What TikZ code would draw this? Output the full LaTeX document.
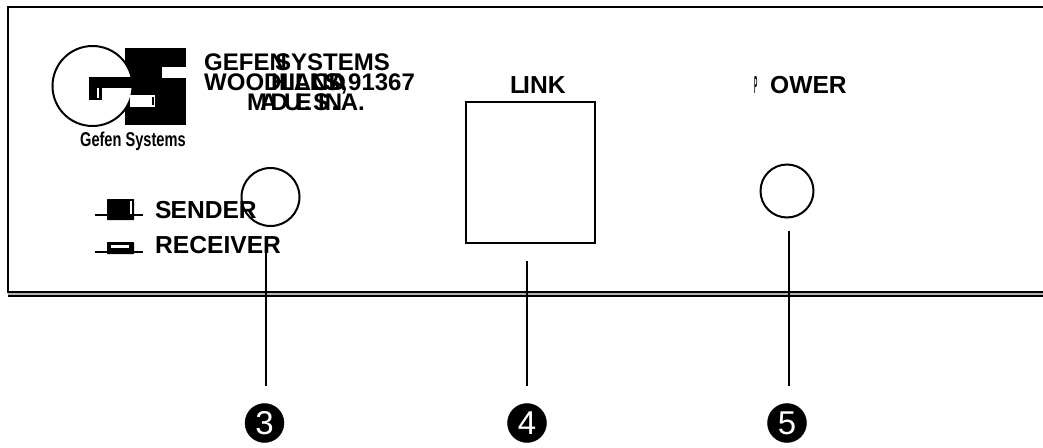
\documentclass[tikz,border=0pt]{standalone}
\usepackage{fontspec}
\setmainfont{Liberation Sans}
\usetikzlibrary{shapes,calc}
\tikzset{addr/.style={inner sep=0pt, anchor=base west, font=\bfseries\fontsize{24}{24}\selectfont}}
\tikzset{tag/.style={inner sep=0pt, anchor=base west, font=\bfseries\fontsize{24.6}{24.6}\selectfont}}
\tikzset{knob/.style={draw, circle, line width=2pt, inner sep=0pt}}
\tikzset{callout/.style={draw, fill=black, ellipse, inner sep=0pt, minimum width=39pt, minimum height=39pt, text=white, font=\fontsize{33}{33}\selectfont}}
\tikzset{line/.style={draw, line width=1.7pt}}
\tikzset{panel/.style={draw, line width=2pt}}
\tikzset{slider/.style={fill=black, rounded corners=0.5pt}}

\begin{document}
\begin{tikzpicture}[x=1pt, y=-1pt]
\useasboundingbox (0,0) rectangle (1043,447);

%PANEL
\coordinate (topright) at (1043,7);
\coordinate (topleft) at (8,7);
\coordinate (botleft) at (8,292);
\coordinate (botright) at (1043,292);
\fill [black!30] (8,292) rectangle (1043,296);
\path [panel] (topright) -- (topleft) -- (botleft) -- (botright);
\path [draw, line width=1.6pt] (8,296) -- (1043,296);

%LOGO
\fill (125,48) rectangle (186,125);
\fill [white] (162,67) rectangle (187,78);
\node [knob, minimum size=80pt, fill=white] (logoring) at (92.5,86) {};
\fill (89,77) rectangle (136,88);
\fill (89,77) rectangle (102,100);
\fill [white] (97,88) rectangle (99,98);
\fill [white] (130,95) rectangle (155,107);
\fill (152,97) rectangle (154,105);
\node [inner sep=0pt, anchor=base west, xscale=0.73, font=\bfseries\fontsize{20}{20}\selectfont] (logotext) at (80,146) {Gefen Systems};

%ADDRESS
\node [addr] (gefen) at (204,70) {GEFEN};
\node [addr] (systems) at (275,70) {SYSTEMS};
\node [addr] (wood) at (204,90) {WOOD};
\node [addr] (land) at (279,90) {LAND};
\node [addr] (hills) at (271,90) {HILLS,};
\node [addr] (state) at (312,90) {CA};
\node [addr] (zip) at (348,90) {91367};
\node [addr] (made) at (247,110) {M\kern-7pt A\kern-7pt D\kern8pt E};
\node [addr] (madein) at (318,110) {IN};
\node [addr] (usa) at (284,110) {U\kern2.5pt .\kern2.5pt S\kern2.5pt .\kern2.5pt A.};

%SWITCHES
\path [draw, line width=1.7pt] (95,215) -- (143,215);
\fill [slider] (107,199) rectangle (134,220);
\fill [white] (130,201) rectangle (132,214);
\path [draw, line width=1.7pt] (95,252) -- (143,252);
\fill [slider] (107,242) rectangle (134,254);
\fill [white] (111,245) rectangle (129,248);
\node [tag] (sender) at (155,218) {S\kern-1pt ENDER};
\node [tag] (receiver) at (155,253) {RECEIVER};

%FRONT PANEL PARTS
\node [knob, minimum size=58pt] (led) at (270.5,197) {};
\node [draw, line width=2pt, minimum width=129pt, minimum height=141pt, inner sep=0pt] (port) at (530.5,172.5) {};
\node [knob, minimum size=53pt] (power) at (787,191) {};
\node [tag] (linktext) at (510,93) {L\kern-2pt INK};
\node [tag, xscale=0.2] (ptext) at (754,93) {P};
\node [tag] (owertext) at (770,93) {OWER};

%CALLOUTS
\node [callout] (three) at (264.5,423) {3};
\node [callout] (four) at (527,423) {4};
\node [callout] (five) at (787,423) {5};
\coordinate (threetop) at (266,252);
\coordinate (fourtop) at (527,261);
\coordinate (fivetop) at (789,231);
\path [line] (threetop) -- (266,386);
\path [line] (fourtop) -- (527,386);
\path [line] (fivetop) -- (789,386);

\end{tikzpicture}
\end{document}
